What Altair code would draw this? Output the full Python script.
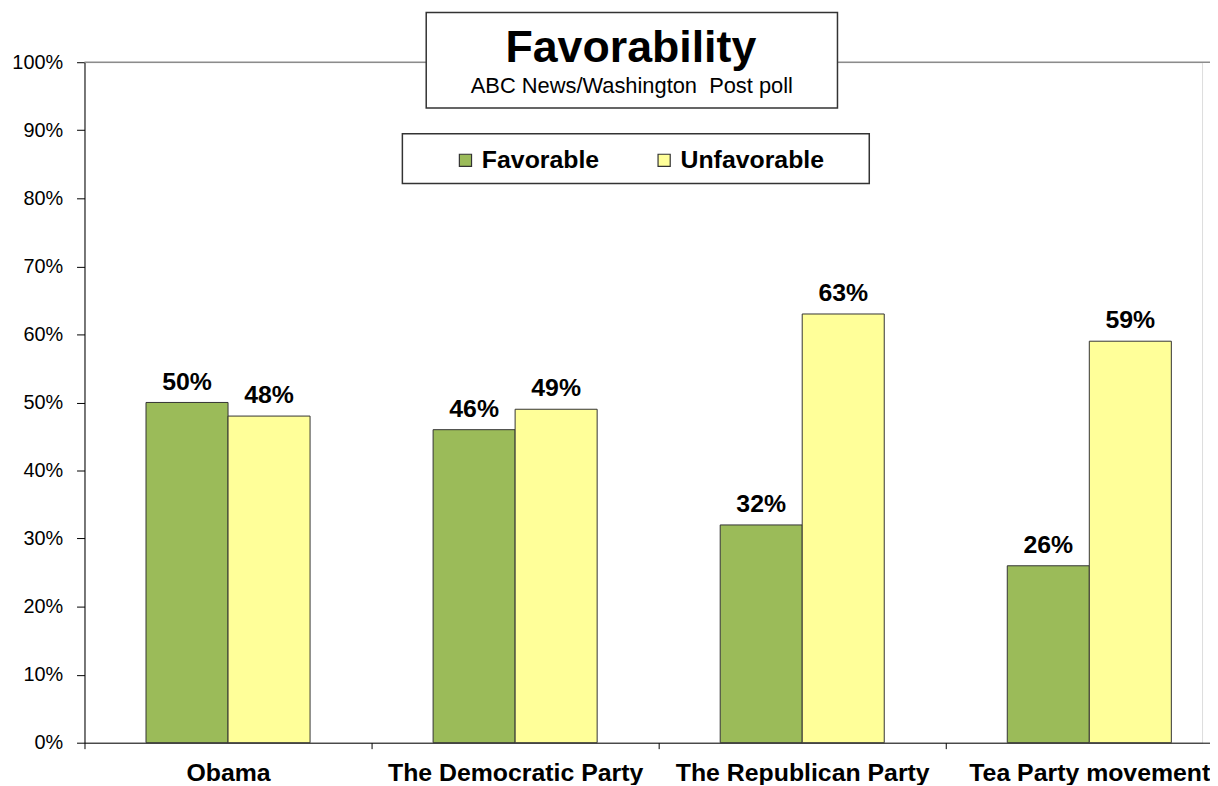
import altair as alt
import pandas as pd

categories = ["Obama", "The Democratic Party", "The Republican Party", "Tea Party movement"]
series = ["Favorable", "Unfavorable"]
favorable = [50, 46, 32, 26]
unfavorable = [48, 49, 63, 59]
colors = ["#9BBB59", "#FFFF99"]
y_ticks = [0, 10, 20, 30, 40, 50, 60, 70, 80, 90, 100]
title_text = "Favorability"
subtitle_text = "ABC News/Washington\u00a0 Post poll"

rows = []
for c, f, u in zip(categories, favorable, unfavorable):
    rows.append({"category": c, "series": "Favorable", "value": f})
    rows.append({"category": c, "series": "Unfavorable", "value": u})
df = pd.DataFrame(rows)

FONT = "Liberation Sans"
W, H = 1125, 685
XR = 1156

x_enc = alt.X(
    "category:N", sort=categories,
    scale=alt.Scale(range=[0, XR], paddingInner=0, paddingOuter=0),
    axis=alt.Axis(title=None, tickBand="extent", labelAngle=0, labelFont=FONT,
                  labelFontSize=25, labelFontWeight="bold", labelColor="black",
                  domainColor="black", domainWidth=1, tickColor="black", tickSize=6,
                  labelPadding=12, labelOverlap=False, labelLimit=0, grid=False),
)
xo_enc = alt.XOffset("series:N", sort=series,
                     scale=alt.Scale(paddingOuter=0.75, paddingInner=0))
y_enc = alt.Y(
    "value:Q", scale=alt.Scale(domain=[0, 100]),
    axis=alt.Axis(title=None, values=y_ticks, labelExpr="datum.value + '%'",
                  labelFont=FONT, labelFontSize=20, labelColor="black",
                  domainColor="black", domainWidth=1, tickColor="black", tickSize=8,
                  labelPadding=14, grid=False),
)

bars = alt.Chart(df).mark_bar(stroke="#333333", strokeWidth=1).encode(
    x=x_enc, xOffset=xo_enc, y=y_enc,
    color=alt.Color("series:N", sort=series,
                    scale=alt.Scale(domain=series, range=colors),
                    legend=alt.Legend(orient="none", legendX=371, legendY=86,
                                      direction="horizontal", title=None,
                                      symbolType="square", symbolSize=150,
                                      symbolStrokeColor="#333333", symbolStrokeWidth=1.2,
                                      symbolOpacity=1,
                                      labelFont=FONT, labelFontSize=25,
                                      labelFontWeight="bold", labelColor="black",
                                      labelOffset=4, columnPadding=52, padding=0)),
)

labels = alt.Chart(df).transform_calculate(
    label="datum.value + '%'"
).mark_text(font=FONT, fontSize=25, fontWeight="bold", color="black",
            baseline="alphabetic", dy=-13).encode(
    x=alt.X("category:N", sort=categories), xOffset=alt.XOffset("series:N", sort=series),
    y=alt.Y("value:Q"), text="label:N",
)

top_rule = alt.Chart(pd.DataFrame({"k": [0]})).mark_rule(color="#8c8c8c", strokeWidth=1.5).encode(
    y=alt.datum(100), x=alt.value(0), x2=alt.value(XR)
)

one = pd.DataFrame({"k": [0]})
title_box = alt.Chart(one).mark_rect(fill="white", stroke="#333333", strokeWidth=1.5).encode(
    x=alt.value(344), x2=alt.value(758), y=alt.value(-50), y2=alt.value(46)
)
title_mark = alt.Chart(pd.DataFrame({"t": [title_text]})).mark_text(
    font=FONT, fontSize=45, fontWeight="bold", color="black", baseline="alphabetic"
).encode(x=alt.value(550), y=alt.value(0), text="t:N")
subtitle_mark = alt.Chart(pd.DataFrame({"t": [subtitle_text]})).mark_text(
    font=FONT, fontSize=22, color="black", baseline="alphabetic"
).encode(x=alt.value(551), y=alt.value(31), text="t:N")

legend_box = alt.Chart(one).mark_rect(fill="white", stroke="#333333", strokeWidth=1.5).encode(
    x=alt.value(320), x2=alt.value(790), y=alt.value(72), y2=alt.value(122)
)

chart = alt.layer(
    top_rule, title_box, title_mark, subtitle_mark, legend_box, bars, labels
).properties(
    width=W, height=H,
    autosize=alt.AutoSizeParams(type="none"),
    padding={"left": 77, "top": 52, "right": 8, "bottom": 40},
).configure_view(stroke=None).configure(background="white")

chart.save("out.html", embed_options={"renderer": "svg", "actions": False})
